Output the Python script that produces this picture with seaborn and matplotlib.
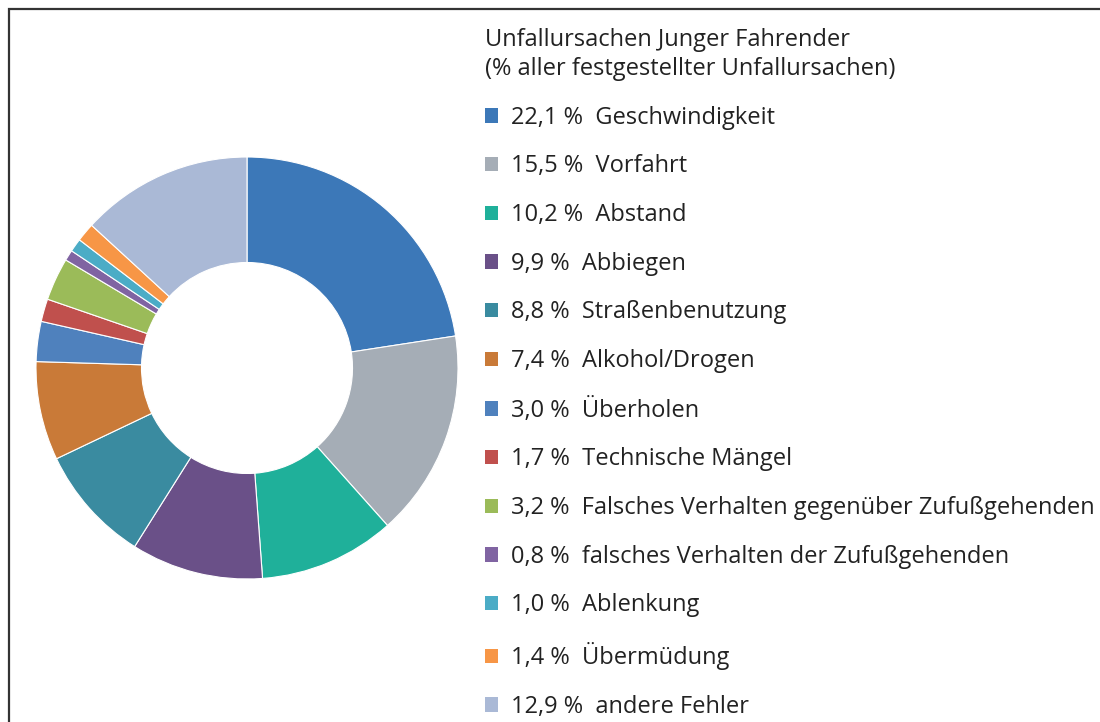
import matplotlib
matplotlib.use("Agg")
import matplotlib.pyplot as plt
from matplotlib.patches import Patch, Rectangle
import seaborn as sns

categories = ["Geschwindigkeit", "Vorfahrt", "Abstand", "Abbiegen", "Straßenbenutzung",
              "Alkohol/Drogen", "Überholen", "Technische Mängel",
              "Falsches Verhalten gegenüber Zufußgehenden",
              "falsches Verhalten der Zufußgehenden", "Ablenkung", "Übermüdung",
              "andere Fehler"]
values = [22.1, 15.5, 10.2, 9.9, 8.8, 7.4, 3.0, 1.7, 3.2, 0.8, 1.0, 1.4, 12.9]
value_labels = ["22,1 %", "15,5 %", "10,2 %", "9,9 %", "8,8 %", "7,4 %", "3,0 %",
                "1,7 %", "3,2 %", "0,8 %", "1,0 %", "1,4 %", "12,9 %"]
colors = ["#3C78B8", "#A5ADB6", "#1FB09A", "#6A5088", "#3A8BA0", "#C97A38",
          "#4F81BD", "#C0504D", "#9BBB59", "#8064A2", "#4BACC6", "#F79646", "#AAB9D6"]
title = "Unfallursachen Junger Fahrender\n(% aller festgestellter Unfallursachen)"

sns.set_theme(style="white")
plt.rcParams['font.family'] = ['Open Sans', 'DejaVu Sans']

W, H = 1100, 722
fig = plt.figure(figsize=(W / 100, H / 100), dpi=100)
fig.patch.set_facecolor("white")

cx, cy, r = 247, 368, 211
ax = fig.add_axes([(cx - r) / W, (H - cy - r) / H, 2 * r / W, 2 * r / H])
wedges, _ = ax.pie(values, colors=colors, startangle=90, counterclock=False,
                   radius=1.0, wedgeprops=dict(width=0.5, edgecolor="white", linewidth=0.8))
ax.set_xlim(-1, 1)
ax.set_ylim(-1, 1)
ax.set_aspect("equal")
ax.axis("off")

handles = [Patch(facecolor=c, edgecolor="none") for c in colors]
labels = [f"{v}  {c}" for v, c in zip(value_labels, categories)]
leg = fig.legend(handles, labels, title=title, loc="upper left",
                 bbox_to_anchor=(483.5 / W, 1 - 26.5 / H), frameon=False,
                 fontsize=17, title_fontsize=17, handlelength=0.55, handleheight=0.55,
                 handletextpad=0.55, labelspacing=1.045, borderpad=0.05, borderaxespad=0)
leg._legend_box.align = "left"
for t in leg.get_texts():
    t.set_color("#222222")
leg.get_title().set_color("#222222")
leg.get_title().set_linespacing(1.3)

fig.patches.append(Rectangle((9 / W, -0.05), 1.1, 1 - 8.5 / H + 0.05,
                             transform=fig.transFigure, fill=False,
                             edgecolor="#333333", linewidth=1.6))

fig.savefig("out.png", dpi=100, facecolor="white")
